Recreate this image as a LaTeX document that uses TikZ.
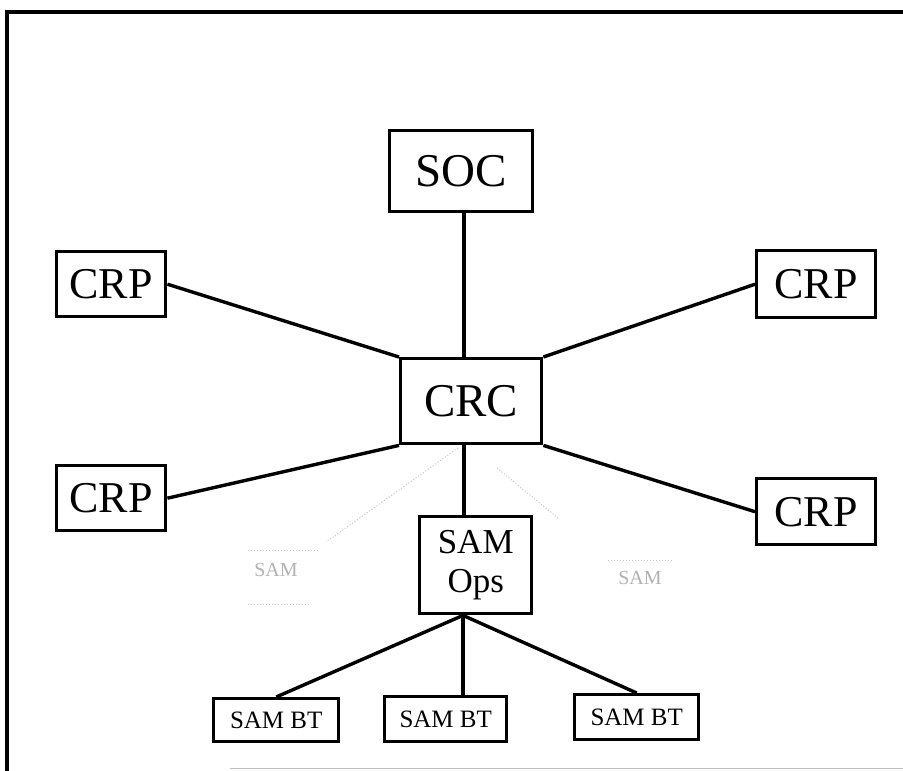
\documentclass[tikz,border=0pt]{standalone}
\usepackage{fontspec}
\setmainfont{Liberation Serif}
\begin{document}
\begin{tikzpicture}[x=1pt,y=-1pt,
  box/.style={draw,line width=3.4pt,inner sep=0pt,anchor=north west},
  link/.style={line width=3.4pt},
  ghost/.style={gray!45,line width=1pt,dotted},
  ghostlabel/.style={text=gray!60,font=\fontsize{20}{20}\selectfont}]
\useasboundingbox (0,0) rectangle (903,771);
% outer frame
\draw[line width=3.4pt] (7,771) -- (7,12) -- (903,12);
\draw[gray!50,line width=1pt] (230,768) -- (903,768);

% nodes
\node[box,minimum width=143pt,minimum height=81pt,font=\fontsize{47}{47}\selectfont] (soc) at (388,129) {SOC};
\node[box,minimum width=141pt,minimum height=85pt,font=\fontsize{47}{47}\selectfont] (crc) at (399,357) {CRC};
\node[box,minimum width=109pt,minimum height=65pt,font=\fontsize{44}{44}\selectfont] (crptl) at (55,250) {CRP};
\node[box,minimum width=119pt,minimum height=67pt,font=\fontsize{44}{44}\selectfont] (crptr) at (755,249) {CRP};
\node[box,minimum width=109pt,minimum height=65pt,font=\fontsize{44}{44}\selectfont] (crpbl) at (55,464) {CRP};
\node[box,minimum width=119pt,minimum height=66pt,font=\fontsize{44}{44}\selectfont] (crpbr) at (755,477) {CRP};
\node[box,minimum width=112pt,minimum height=97pt,align=center,font=\fontsize{35}{39}\selectfont] (ops) at (418,515) {SAM\\Ops};
\node[box,minimum width=125pt,minimum height=43pt,font=\fontsize{25}{25}\selectfont] (bt1) at (212,697) {SAM BT};
\node[box,minimum width=122pt,minimum height=45pt,font=\fontsize{25}{25}\selectfont] (bt2) at (383,695) {SAM BT};
\node[box,minimum width=124pt,minimum height=45pt,font=\fontsize{25}{25}\selectfont] (bt3) at (573,693) {SAM BT};

% connectors
\draw[link] (soc.south -| 464,0) -- (crc.north -| 464,0);
\draw[link] (crptl.east) -- (crc.north west);
\draw[link] (crc.north east) -- (crptr.west);
\draw[link] (crc.south west) -- (crpbl.east);
\draw[link] (crc.south east) -- (crpbr.west);
\draw[link] (crc.south -| 464,0) -- (ops.north -| 464,0);
\coordinate (fan) at (ops.south -| 463,0);
\draw[link] (fan) -- (bt1.north);
\draw[link] (fan) -- (bt2.north -| fan);
\draw[link] (fan) -- (bt3.north);

% faded SAM sites
\coordinate (gl) at (326,542);
\coordinate (gr) at (558,518);
\draw[ghost] (458,448) -- (gl);
\draw[ghost] (497,468) -- (gr);
\draw[ghost] (248,550) -- (318,550);
\draw[ghost] (608,560) -- (672,560);
\draw[ghost] (248,604) -- (310,604);
\node[ghostlabel] (saml) at (276,570) {SAM};
\node[ghostlabel] (samr) at (640,578) {SAM};
\end{tikzpicture}
\end{document}
